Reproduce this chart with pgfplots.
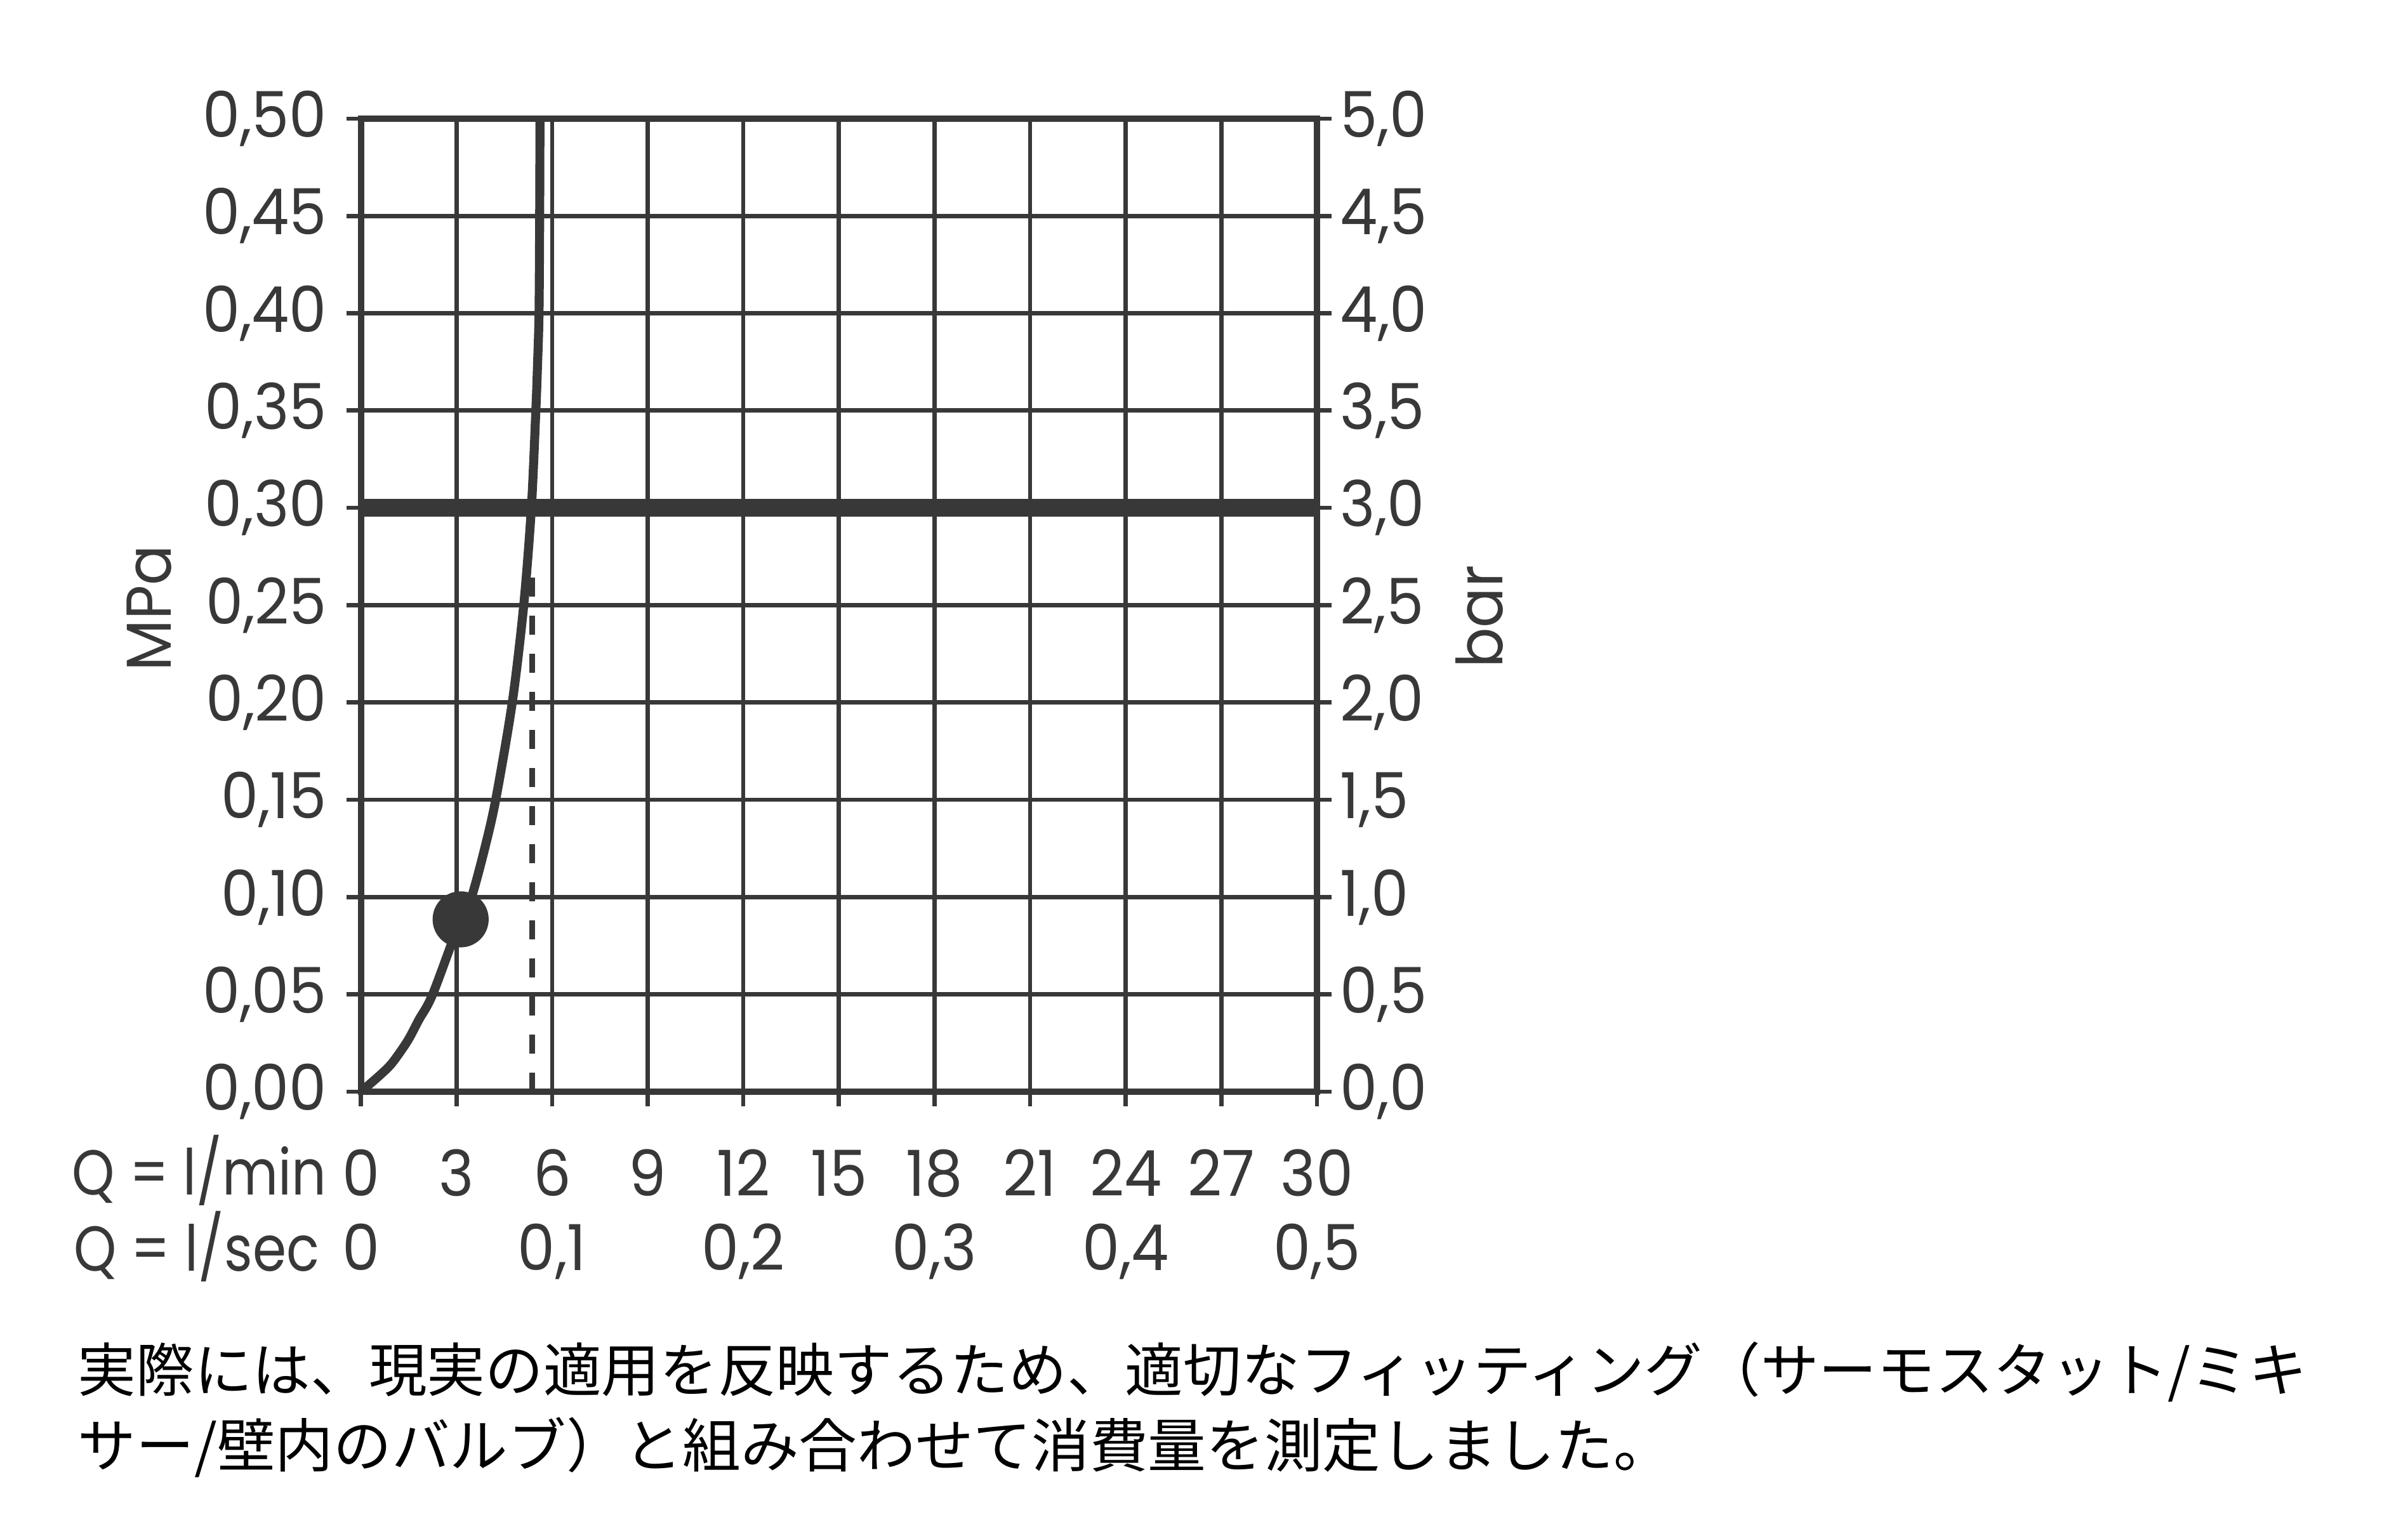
\documentclass[border=0pt]{standalone}
\usepackage{fontspec}
\setmainfont{Poppins}[FakeStretch=0.94]
\newfontfamily\cjk{Noto Sans CJK JP}
\usepackage{pgfplots}
\pgfplotsset{compat=1.18}
\definecolor{ink}{HTML}{383838}

\begin{document}
\begin{tikzpicture}
\pgfplotsset{
  chart/.style={
    at={(0,0)}, anchor=south west,
    scale only axis, width=6.352cm, height=6.466cm,
    tick align=outside, major tick length=2.75pt,
    tick style={ink, line width=0.8pt},
    ticklabel style={font=\fontsize{12}{12}\selectfont, text=ink},
    label style={font=\fontsize{12}{12}\selectfont, text=ink},
  }
}
% main axis: MPa over l/min
\begin{axis}[
  chart,
  xmin=0, xmax=30, ymin=0, ymax=0.5,
  xtick={0,3,6,9,12,15,18,21,24,27,30},
  xticklabels={0,3,6,9,12,15,18,21,24,27,30},
  ytick={0,0.05,0.1,0.15,0.2,0.25,0.3,0.35,0.4,0.45,0.5},
  yticklabels={{0,00},{0,05},{0,10},{0,15},{0,20},{0,25},{0,30},{0,35},{0,40},{0,45},{0,50}},
  xtick pos=left, ytick pos=left,
  grid=major, major grid style={ink, line width=0.8pt},
  axis line style={ink, line width=1.2pt},
  yticklabel style={anchor=east, inner sep=0pt, xshift=-3.5pt},
  xticklabel style={anchor=base, inner sep=0pt, yshift=-17pt},
  ylabel={MPa},
  ylabel style={at={(axis description cs:-0.2215,0.497)}, anchor=center},
]
\addplot[ink, line width=3.4pt] coordinates {(0,0.3) (30,0.3)};
\addplot[ink, line width=1pt, dash pattern=on 3.6pt off 3.6pt] coordinates {(5.375,0) (5.375,0.27)};
\addplot[ink, line width=1.7pt, smooth, tension=0.5] coordinates {
  (0,0) (0.63,0.009) (0.99,0.015) (1.46,0.026) (1.82,0.037) (2.25,0.05)
  (3.13,0.0886) (3.47,0.10) (3.87,0.124) (4.23,0.15) (4.75,0.20)
  (5.11,0.25) (5.35,0.30) (5.49,0.35) (5.54,0.372) (5.59,0.40)
  (5.61,0.45) (5.62,0.50)
};
\addplot[only marks, mark=*, mark size=5.1pt, ink, mark options={fill=ink, draw=ink}] coordinates {(3.13,0.0886)};
\end{axis}
% secondary scales: bar and l/sec
\begin{axis}[
  chart,
  xmin=0, xmax=0.5, ymin=0, ymax=5,
  axis x line*=bottom, axis y line*=right,
  x axis line style={draw=none}, y axis line style={draw=none},
  xtick={0,0.1,0.2,0.3,0.4,0.5},
  xticklabels={0,{0,1},{0,2},{0,3},{0,4},{0,5}},
  major x tick style={draw=none},
  ytick={0,0.5,1,1.5,2,2.5,3,3.5,4,4.5,5},
  yticklabels={{0,0},{0,5},{1,0},{1,5},{2,0},{2,5},{3,0},{3,5},{4,0},{4,5},{5,0}},
  yticklabel style={anchor=west, inner sep=0pt, xshift=1.5pt},
  xticklabel style={anchor=base, inner sep=0pt, yshift=-31pt},
  ylabel={bar},
  ylabel style={at={(axis description cs:1.17,0.488)}, anchor=center},
]
\addplot[draw=none] coordinates {(0,0) (0.5,5)};
\end{axis}
\node[anchor=base east, inner sep=0pt, text=ink, xscale=0.91, font=\fontsize{12}{12}\selectfont]
  at (-0.2214cm,-0.683cm) {Q = l/min};
\node[anchor=base east, inner sep=0pt, text=ink, xscale=0.91, font=\fontsize{12}{12}\selectfont]
  at (-0.27cm,-1.19cm) {Q = l/sec};
\node[anchor=base west, inner sep=0pt, align=left, font=\cjk\fontsize{11}{14.3}\selectfont]
  at (-1.887cm,-2.495cm)
  {実際には、現実の適用を反映するため、適切なフィッティング（サーモスタット/ミキ\\サー/壁内のバルブ）と組み合わせて消費量を測定しました。};
\path (-2.398cm,-2.948cm) rectangle ++(16cm,10.202cm);
\end{tikzpicture}
\end{document}
